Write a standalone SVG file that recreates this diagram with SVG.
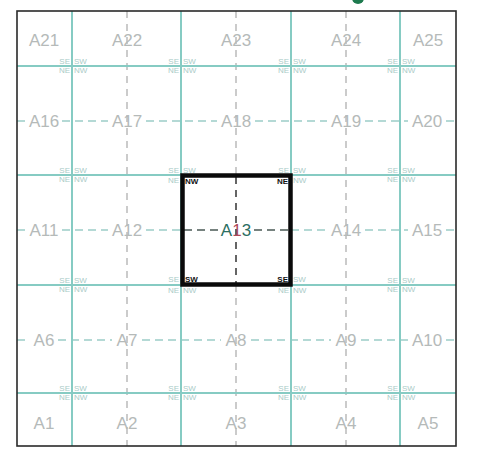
<svg xmlns="http://www.w3.org/2000/svg" width="478" height="449" viewBox="0 0 478 449">
<style>
.bg{fill:#ffffff}
.frame{fill:none;stroke:#2a2a2a;stroke-width:1.6}
.solid{stroke:#86cbc3;stroke-width:2;fill:none}
.hd{stroke:#9ccdc7;stroke-width:1.4;stroke-dasharray:8 5;fill:none}
.vd{stroke:#b0b0b0;stroke-width:1.3;stroke-dasharray:7 6;fill:none}
.hdk{stroke:#4a5a56;stroke-width:1.5;stroke-dasharray:8 5;fill:none}
.vdk{stroke:#333333;stroke-width:1.5;stroke-dasharray:7 6;fill:none}
.lbl{font-family:"Liberation Sans",Arial,sans-serif;font-size:17px;fill:#b5bab9;text-anchor:middle}
.lblk{font-family:"Liberation Sans",Arial,sans-serif;font-size:17px;fill:#2b6e62;text-anchor:middle}
.cn{font-family:"Liberation Sans",Arial,sans-serif;font-size:8px;fill:#a9cbc7}
.cnk{font-family:"Liberation Sans",Arial,sans-serif;font-size:8px;fill:#111111;font-weight:bold}
.e{text-anchor:end}
.box{fill:none;stroke:#0a0a0a;stroke-width:4.5}
</style>
<rect class="bg" x="0" y="0" width="478" height="449"/>
<circle cx="358" cy="-2" r="6" fill="#1d7a4e"/>
<g id="connectors">
  <g id="dashed-vertical">
    <line class="vd" x1="127" y1="11" x2="127" y2="446"/>
    <line class="vd" x1="236" y1="11" x2="236" y2="175"/>
    <line class="vd" x1="236" y1="285" x2="236" y2="446"/>
    <line class="vd" x1="346" y1="11" x2="346" y2="446"/>
    <line class="vdk" x1="236" y1="177" x2="236" y2="283"/>
  </g>
  <g id="dashed-horizontal">
    <path class="hd" d="M17 121H26 M62 121H108 M146 121H217 M255 121H327 M365 121H408 M446 121H456"/>
    <path class="hd" d="M17 230H26 M62 230H108 M146 230H182 M291 230H327 M365 230H408 M446 230H456"/>
    <path class="hdk" d="M184 230H218 M254 230H289"/>
    <path class="hd" d="M17 340H30 M58 340H112 M142 340H221 M251 340H331 M361 340H408 M446 340H456"/>
  </g>
  <g id="solid-grid">
    <line class="solid" x1="72" y1="11" x2="72" y2="446"/>
    <line class="solid" x1="181" y1="11" x2="181" y2="446"/>
    <line class="solid" x1="291" y1="11" x2="291" y2="446"/>
    <line class="solid" x1="400" y1="11" x2="400" y2="446"/>
    <line class="solid" x1="17" y1="66" x2="456" y2="66"/>
    <line class="solid" x1="17" y1="175" x2="456" y2="175"/>
    <line class="solid" x1="17" y1="285" x2="456" y2="285"/>
    <line class="solid" x1="17" y1="393" x2="456" y2="393"/>
  </g>
</g>
<rect class="frame" x="17" y="11" width="439" height="435"/>
<g id="corner-marks">
  <g id="cm-72-66"><text class="cn e" x="70" y="64">SE</text><text class="cn" x="74" y="64">SW</text><text class="cn e" x="70" y="73">NE</text><text class="cn" x="74" y="73">NW</text></g>
  <g id="cm-181-66"><text class="cn e" x="179" y="64">SE</text><text class="cn" x="183" y="64">SW</text><text class="cn e" x="179" y="73">NE</text><text class="cn" x="183" y="73">NW</text></g>
  <g id="cm-291-66"><text class="cn e" x="289" y="64">SE</text><text class="cn" x="293" y="64">SW</text><text class="cn e" x="289" y="73">NE</text><text class="cn" x="293" y="73">NW</text></g>
  <g id="cm-400-66"><text class="cn e" x="398" y="64">SE</text><text class="cn" x="402" y="64">SW</text><text class="cn e" x="398" y="73">NE</text><text class="cn" x="402" y="73">NW</text></g>
  <g id="cm-72-175"><text class="cn e" x="70" y="173">SE</text><text class="cn" x="74" y="173">SW</text><text class="cn e" x="70" y="182">NE</text><text class="cn" x="74" y="182">NW</text></g>
  <g id="cm-181-175"><text class="cn e" x="179" y="173">SE</text><text class="cn" x="183" y="173">SW</text><text class="cn e" x="179" y="183">NE</text><text class="cnk" x="185" y="184">NW</text></g>
  <g id="cm-291-175"><text class="cn e" x="289" y="173">SE</text><text class="cn" x="293" y="173">SW</text><text class="cnk e" x="288" y="184">NE</text><text class="cn" x="293" y="183">NW</text></g>
  <g id="cm-400-175"><text class="cn e" x="398" y="173">SE</text><text class="cn" x="402" y="173">SW</text><text class="cn e" x="398" y="182">NE</text><text class="cn" x="402" y="182">NW</text></g>
  <g id="cm-72-285"><text class="cn e" x="70" y="283">SE</text><text class="cn" x="74" y="283">SW</text><text class="cn e" x="70" y="292">NE</text><text class="cn" x="74" y="292">NW</text></g>
  <g id="cm-181-285"><text class="cn e" x="179" y="282">SE</text><text class="cnk" x="185" y="282">SW</text><text class="cn e" x="179" y="293">NE</text><text class="cn" x="183" y="293">NW</text></g>
  <g id="cm-291-285"><text class="cnk e" x="288" y="282">SE</text><text class="cn" x="293" y="282">SW</text><text class="cn e" x="289" y="293">NE</text><text class="cn" x="293" y="293">NW</text></g>
  <g id="cm-400-285"><text class="cn e" x="398" y="283">SE</text><text class="cn" x="402" y="283">SW</text><text class="cn e" x="398" y="292">NE</text><text class="cn" x="402" y="292">NW</text></g>
  <g id="cm-72-393"><text class="cn e" x="70" y="391">SE</text><text class="cn" x="74" y="391">SW</text><text class="cn e" x="70" y="400">NE</text><text class="cn" x="74" y="400">NW</text></g>
  <g id="cm-181-393"><text class="cn e" x="179" y="391">SE</text><text class="cn" x="183" y="391">SW</text><text class="cn e" x="179" y="400">NE</text><text class="cn" x="183" y="400">NW</text></g>
  <g id="cm-291-393"><text class="cn e" x="289" y="391">SE</text><text class="cn" x="293" y="391">SW</text><text class="cn e" x="289" y="400">NE</text><text class="cn" x="293" y="400">NW</text></g>
  <g id="cm-400-393"><text class="cn e" x="398" y="391">SE</text><text class="cn" x="402" y="391">SW</text><text class="cn e" x="398" y="400">NE</text><text class="cn" x="402" y="400">NW</text></g>
</g>
<g id="A21"><text class="lbl" x="44" y="46">A21</text></g>
<g id="A22"><text class="lbl" x="127" y="46">A22</text></g>
<g id="A23"><text class="lbl" x="236" y="46">A23</text></g>
<g id="A24"><text class="lbl" x="346" y="46">A24</text></g>
<g id="A25"><text class="lbl" x="428" y="46">A25</text></g>
<g id="A16"><text class="lbl" x="44" y="127">A16</text></g>
<g id="A17"><text class="lbl" x="127" y="127">A17</text></g>
<g id="A18"><text class="lbl" x="236" y="127">A18</text></g>
<g id="A19"><text class="lbl" x="346" y="127">A19</text></g>
<g id="A20"><text class="lbl" x="427" y="127">A20</text></g>
<g id="A11"><text class="lbl" x="44" y="236">A11</text></g>
<g id="A12"><text class="lbl" x="127" y="236">A12</text></g>
<g id="A13"><rect class="box" x="182.5" y="175.5" width="108" height="109"/><text class="lblk" x="236" y="236">A<tspan fill="#b0485a">1</tspan>3</text></g>
<g id="A14"><text class="lbl" x="346" y="236">A14</text></g>
<g id="A15"><text class="lbl" x="427" y="236">A15</text></g>
<g id="A6"><text class="lbl" x="44" y="346">A6</text></g>
<g id="A7"><text class="lbl" x="127" y="346">A7</text></g>
<g id="A8"><text class="lbl" x="236" y="346">A8</text></g>
<g id="A9"><text class="lbl" x="346" y="346">A9</text></g>
<g id="A10"><text class="lbl" x="427" y="346">A10</text></g>
<g id="A1"><text class="lbl" x="44" y="429">A1</text></g>
<g id="A2"><text class="lbl" x="127" y="429">A2</text></g>
<g id="A3"><text class="lbl" x="236" y="429">A3</text></g>
<g id="A4"><text class="lbl" x="346" y="429">A4</text></g>
<g id="A5"><text class="lbl" x="428" y="429">A5</text></g>
</svg>
